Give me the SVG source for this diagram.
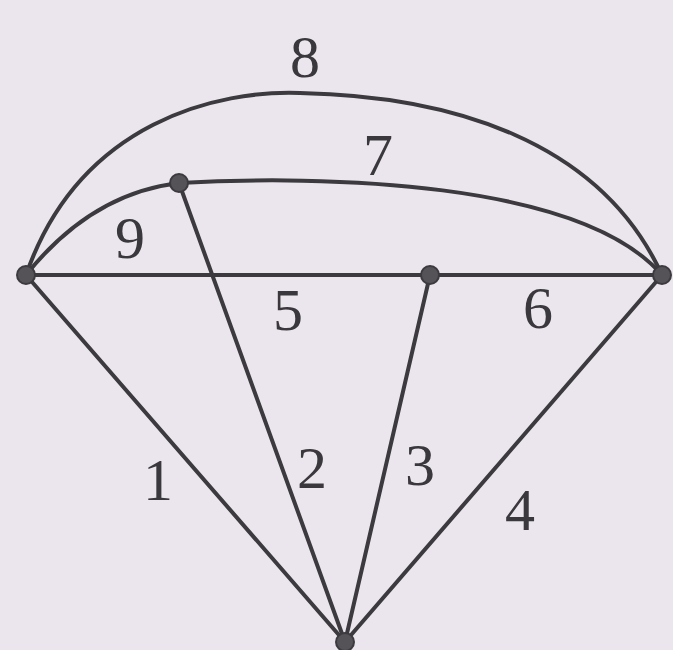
<svg xmlns="http://www.w3.org/2000/svg" width="673" height="650" viewBox="0 0 673 650">
<style>
.e{fill:none;stroke:#3c3a3e;stroke-width:4;stroke-linecap:round}
.n{fill:#555258;stroke:#3c3a3e;stroke-width:2}
.t{font-family:"Liberation Serif",serif;font-size:60px;fill:#3a383c;text-anchor:middle}
</style>
<rect width="673" height="650" fill="#ebe6ee"/>
<g id="connectors">
<path class="e" d="M26,275 L345,642"/>
<path class="e" d="M179,183 L345,642"/>
<path class="e" d="M430,275 L345,642"/>
<path class="e" d="M662,275 L345,642"/>
<path class="e" d="M26,275 L430,275"/>
<path class="e" d="M430,275 L662,275"/>
<path class="e" d="M179,183 C 320,175 580,180 662,275"/>
<path class="e" d="M26,275 C 80,120 220,90 300,93 C 450,96 600,140 662,275"/>
<path class="e" d="M26,275 C 70,220 120,190 179,183"/>
</g>
<g id="labels">
<text class="t" x="305" y="77">8</text>
<text class="t" x="378" y="175">7</text>
<text class="t" x="130" y="258">9</text>
<text class="t" x="288" y="330">5</text>
<text class="t" x="538" y="328">6</text>
<text class="t" x="158" y="500">1</text>
<text class="t" x="312" y="488">2</text>
<text class="t" x="420" y="485">3</text>
<text class="t" x="520" y="530">4</text>
</g>
<g id="nA"><circle class="n" cx="26" cy="275" r="9"/></g>
<g id="nB"><circle class="n" cx="179" cy="183" r="9"/></g>
<g id="nC"><circle class="n" cx="430" cy="275" r="9"/></g>
<g id="nD"><circle class="n" cx="662" cy="275" r="9"/></g>
<g id="nE"><circle class="n" cx="345" cy="642" r="9"/></g>
</svg>
